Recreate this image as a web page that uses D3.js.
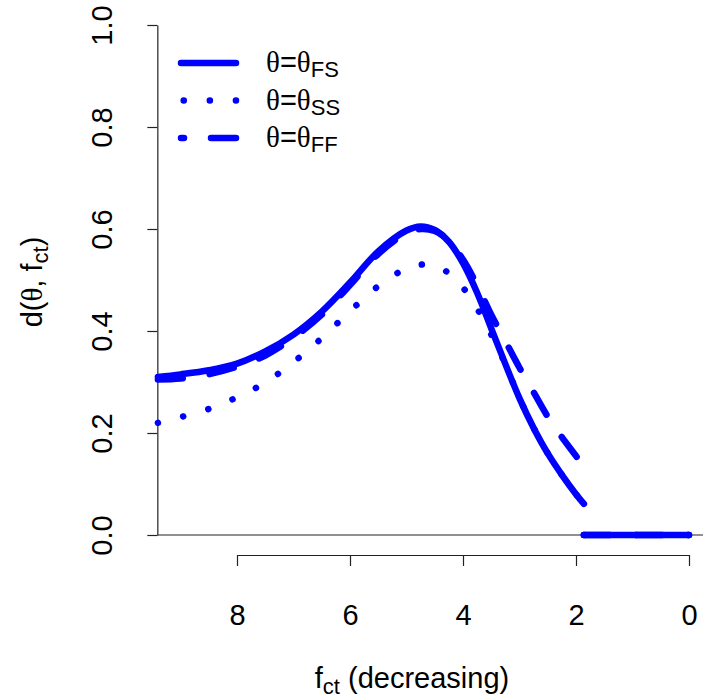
<!DOCTYPE html>
<html>
<head>
<meta charset="utf-8">
<script src="https://cdn.jsdelivr.net/npm/d3@7"></script>
<style>
  body { margin: 0; background: #fff; }
  svg { display: block; font-family: "Liberation Sans", Arial, sans-serif; }
</style>
</head>
<body>
<script>
// f_ct grid (decreasing along the axis)
var fct = [9.4, 9.0, 8.5, 8.0, 7.5, 7.0, 6.5, 6.0, 5.5, 5.0, 4.75, 4.5, 4.25, 4.0, 3.75, 3.5, 3.25, 3.0, 2.75, 2.5, 2.25, 2.0, 1.86];

// d(theta, f_ct) for each theta
var dFS = [0.310, 0.315, 0.323, 0.336, 0.360, 0.393, 0.438, 0.495, 0.556, 0.597, 0.605, 0.598, 0.575, 0.533, 0.475, 0.405, 0.335, 0.268, 0.210, 0.160, 0.118, 0.080, 0.061];
var dSS = [0.220, 0.231, 0.247, 0.270, 0.299, 0.339, 0.386, 0.439, 0.488, 0.523, 0.530, 0.529, 0.513, 0.485, 0.444, 0.393, 0.335, 0.268, 0.210, 0.160, 0.118, 0.080, 0.061];
var dFF = [0.305, 0.307, 0.315, 0.330, 0.352, 0.387, 0.432, 0.490, 0.551, 0.592, 0.600, 0.596, 0.577, 0.540, 0.490, 0.432, 0.380, 0.328, 0.280, 0.232, 0.192, 0.155, 0.133];

// below the cut-off every curve is zero
var zeroFct = [1.86, 0];
var zeroVal = [0, 0];

var xTicks = [8, 6, 4, 2, 0];
var yTicks = [0, 0.2, 0.4, 0.6, 0.8, 1.0];

var seriesNames = ["FS", "SS", "FF"];

var width = 703, height = 698;
var blue = "#0000ff";
var LWD = 6.5;

var svg = d3.select("body").append("svg")
    .attr("width", width)
    .attr("height", height);

var x = d3.scaleLinear().domain([8, 0]).range([237, 689]);
var y = d3.scaleLinear().domain([0, 1]).range([535, 25]);
var left = x(9.41);

// horizontal zero line over the plot
svg.append("line")
    .attr("x1", left).attr("x2", width)
    .attr("y1", y(0)).attr("y2", y(0))
    .attr("stroke", "#222").attr("stroke-width", 1.2);

// y axis
var yAxis = svg.append("g")
    .attr("transform", "translate(" + left + ",0)")
    .call(d3.axisLeft(y).tickValues(yTicks).tickSize(10).tickSizeOuter(0).tickFormat(d3.format(".1f")));
yAxis.select(".domain").attr("stroke", "#222").attr("stroke-width", 1.2);
yAxis.selectAll(".tick line").attr("stroke", "#222").attr("stroke-width", 1.2);
yAxis.selectAll(".tick text")
    .attr("x", 0).attr("y", 0).attr("dy", null)
    .attr("transform", "translate(" + (112 - left) + ",0) rotate(-90)")
    .attr("text-anchor", "middle")
    .attr("font-size", 29)
    .attr("font-family", "Liberation Sans, Arial, sans-serif")
    .attr("fill", "#000");

// x axis, offset below the plot as in base R
var xAxis = svg.append("g")
    .attr("transform", "translate(0,555)")
    .call(d3.axisBottom(x).tickValues(xTicks).tickSize(11).tickSizeOuter(0).tickFormat(d3.format("d")));
xAxis.select(".domain").attr("stroke", "#222").attr("stroke-width", 1.2);
xAxis.selectAll(".tick line").attr("stroke", "#222").attr("stroke-width", 1.2);
xAxis.selectAll(".tick text")
    .attr("y", 70).attr("dy", null)
    .attr("font-size", 29)
    .attr("font-family", "Liberation Sans, Arial, sans-serif")
    .attr("fill", "#000");

// axis titles
var xlab = svg.append("text")
    .attr("x", 412).attr("y", 688)
    .attr("text-anchor", "middle")
    .attr("font-size", 29);
xlab.append("tspan").text("f");
xlab.append("tspan").attr("font-size", 22).attr("dy", 6).text("ct");
xlab.append("tspan").attr("dy", -6).text(" (decreasing)");

var ylab = svg.append("text")
    .attr("transform", "translate(42,282) rotate(-90)")
    .attr("text-anchor", "middle")
    .attr("font-size", 29);
ylab.append("tspan").text("d(");
ylab.append("tspan").attr("font-family", "Liberation Serif, serif").text("θ");
ylab.append("tspan").text(", f");
ylab.append("tspan").attr("font-size", 22).attr("dy", 6).text("ct");
ylab.append("tspan").attr("dy", -6).text(")");

// curves
var line = d3.line()
    .x(function(d) { return x(d[0]); })
    .y(function(d) { return y(d[1]); })
    .curve(d3.curveCatmullRom.alpha(0.5));

var styles = {
    "FS": { dash: null },
    "SS": { dash: "0.1," + (4 * LWD) },
    "FF": { dash: "25,27" }
};
var values = { "FS": dFS, "SS": dSS, "FF": dFF };

seriesNames.forEach(function(name) {
    var pts = fct.map(function(f, i) { return [f, values[name][i]]; });
    var zero = zeroFct.map(function(f, i) { return [f, zeroVal[i]]; });
    [pts, zero].forEach(function(p) {
        svg.append("path")
            .datum(p)
            .attr("d", line)
            .attr("fill", "none")
            .attr("stroke", blue)
            .attr("stroke-width", LWD)
            .attr("stroke-linecap", "round")
            .attr("stroke-linejoin", "round")
            .attr("stroke-dasharray", styles[name].dash);
    });
});

// legend
var legend = svg.append("g");
seriesNames.forEach(function(name, i) {
    var ly = 63 + i * 37.5;
    legend.append("line")
        .attr("x1", 236).attr("x2", 181)
        .attr("y1", ly).attr("y2", ly)
        .attr("stroke", blue)
        .attr("stroke-width", LWD)
        .attr("stroke-linecap", "round")
        .attr("stroke-dasharray", styles[name].dash);
    var t = legend.append("text")
        .attr("x", 266).attr("y", ly + 9)
        .attr("font-size", 29);
    t.append("tspan").attr("font-family", "Liberation Serif, serif").text("θ");
    t.append("tspan").text("=");
    t.append("tspan").attr("font-family", "Liberation Serif, serif").text("θ");
    t.append("tspan").attr("font-size", 22).attr("dy", 5).text(name);
});
</script>
</body>
</html>
